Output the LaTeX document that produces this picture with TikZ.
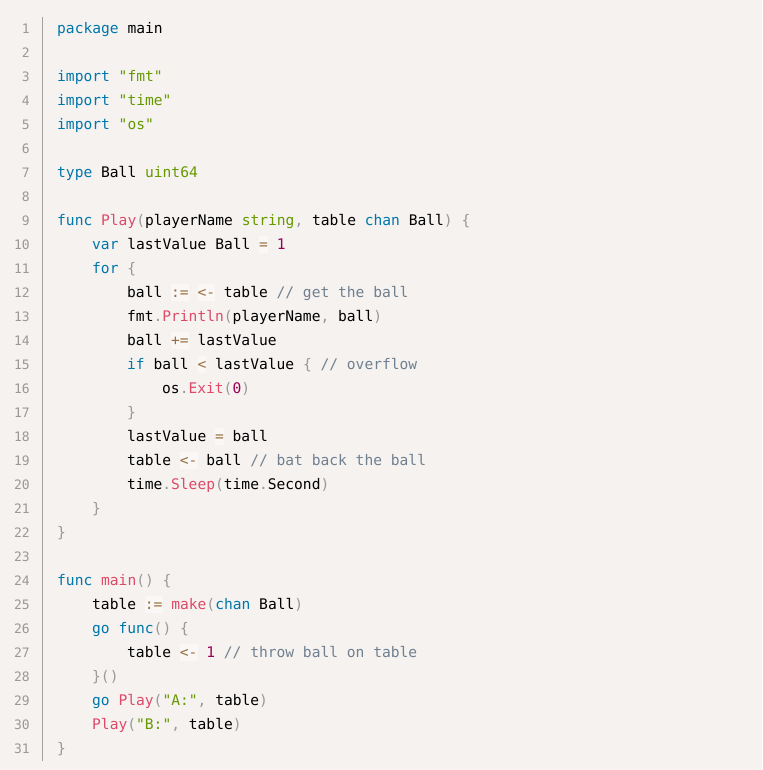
\documentclass[tikz,border=0pt]{standalone}
\usepackage{fontspec}
\setmonofont{DejaVu Sans Mono}
\definecolor{bgcol}{HTML}{F5F2F0}
\definecolor{kwblue}{HTML}{0077AA}
\definecolor{fnpink}{HTML}{DD4A68}
\definecolor{strgreen}{HTML}{669900}
\definecolor{numpurple}{HTML}{990055}
\definecolor{punctgray}{HTML}{999999}
\definecolor{opbrown}{HTML}{9A6E3A}
\definecolor{opbg}{HTML}{FAF8F7}
\definecolor{commentgray}{HTML}{708090}
\definecolor{numgray}{HTML}{999999}
\definecolor{rulegray}{HTML}{A0A0A0}
\newcommand\kw[1]{\textcolor{kwblue}{#1}}
\newcommand\fn[1]{\textcolor{fnpink}{#1}}
\newcommand\st[1]{\textcolor{strgreen}{#1}}
\newcommand\nm[1]{\textcolor{numpurple}{#1}}
\newcommand\pu[1]{\textcolor{punctgray}{#1}}
\newcommand\cm[1]{\textcolor{commentgray}{#1}}
\newcommand\op[1]{{\setlength\fboxsep{0pt}\colorbox{opbg}{\rule[-3.5pt]{0pt}{17.5pt}\textcolor{opbrown}{#1}}}}
\begin{document}
\begin{tikzpicture}[x=1pt, y=-1pt,
  code/.style={anchor=base west, inner sep=0pt, font=\ttfamily\fontsize{14.6}{24}\selectfont},
  lineno/.style={anchor=base east, inner sep=0pt, text=numgray, font=\ttfamily\fontsize{13}{24}\selectfont}]

\fill[bgcol](0,0) rectangle (762,770);
\useasboundingbox (0,0) rectangle (762,770);
\draw[rulegray, line width=1.2pt](42.5,17)--(42.5,761);
\foreach \n in {1,...,31}
  \node[lineno] (n\n) at (30,{33.5+24*(\n-1)}) {\n};

% package and imports
\node[code] (l1) at (57,33.5) {\kw{package} main};
\node[code] (l3) at (57,81.5) {\kw{import} \st{"fmt"}};
\node[code] (l4) at (57,105.5) {\kw{import} \st{"time"}};
\node[code] (l5) at (57,129.5) {\kw{import} \st{"os"}};
\node[code] (l7) at (57,177.5) {\kw{type} Ball \st{uint64}};

% func Play
\node[code] (l9) at (57,225.5) {\kw{func} \fn{Play}\pu{(}playerName \st{string}\pu{,} table \kw{chan} Ball\pu{)} \pu{\{}};
\node[code] (l10) at (92,249.5) {\kw{var} lastValue Ball \op{=} \nm{1}};
\node[code] (l11) at (92,273.5) {\kw{for} \pu{\{}};
\node[code] (l12) at (127,297.5) {ball \op{:=} \op{<-} table \cm{// get the ball}};
\node[code] (l13) at (127,321.5) {fmt\pu{.}\fn{Println}\pu{(}playerName\pu{,} ball\pu{)}};
\node[code] (l14) at (127,345.5) {ball \op{+=} lastValue};
\node[code] (l15) at (127,369.5) {\kw{if} ball \op{<} lastValue \pu{\{} \cm{// overflow}};
\node[code] (l16) at (162,393.5) {os\pu{.}\fn{Exit}\pu{(}\nm{0}\pu{)}};
\node[code] (l17) at (127,417.5) {\pu{\}}};
\node[code] (l18) at (127,441.5) {lastValue \op{=} ball};
\node[code] (l19) at (127,465.5) {table \op{<-} ball \cm{// bat back the ball}};
\node[code] (l20) at (127,489.5) {time\pu{.}\fn{Sleep}\pu{(}time\pu{.}Second\pu{)}};
\node[code] (l21) at (92,513.5) {\pu{\}}};
\node[code] (l22) at (57,537.5) {\pu{\}}};

% func main
\node[code] (l24) at (57,585.5) {\kw{func} \fn{main}\pu{()} \pu{\{}};
\node[code] (l25) at (92,609.5) {table \op{:=} \fn{make}\pu{(}\kw{chan} Ball\pu{)}};
\node[code] (l26) at (92,633.5) {\kw{go} \kw{func}\pu{()} \pu{\{}};
\node[code] (l27) at (127,657.5) {table \op{<-} \nm{1} \cm{// throw ball on table}};
\node[code] (l28) at (92,681.5) {\pu{\}()}};
\node[code] (l29) at (92,705.5) {\kw{go} \fn{Play}\pu{(}\st{"A:"}\pu{,} table\pu{)}};
\node[code] (l30) at (92,729.5) {\fn{Play}\pu{(}\st{"B:"}\pu{,} table\pu{)}};
\node[code] (l31) at (57,753.5) {\pu{\}}};

\end{tikzpicture}
\end{document}
